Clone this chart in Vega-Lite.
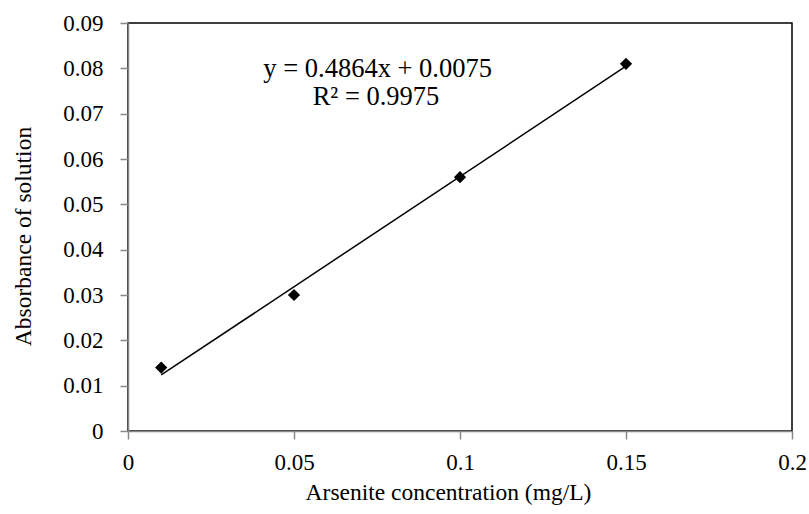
{
  "$schema": "https://vega.github.io/schema/vega-lite/v6.json",
  "autosize": "none",
  "width": 664,
  "height": 408,
  "padding": {"left": 128, "top": 23, "right": 17, "bottom": 83},
  "background": "white",
  "config": {
    "font": "Liberation Serif",
    "view": {"stroke": "black", "strokeWidth": 1.5},
    "axis": {
      "grid": false,
      "domainColor": "#888888",
      "domainWidth": 1.5,
      "tickColor": "#888888",
      "tickWidth": 1.5,
      "tickSize": 8,
      "labelFont": "Liberation Serif",
      "labelFontSize": 23,
      "labelColor": "black",
      "titleFont": "Liberation Serif",
      "titleFontSize": 23.5,
      "titleFontWeight": "normal",
      "titleColor": "black"
    }
  },
  "datasets": {
    "points": [
      {"conc": 0.01, "abs": 0.014},
      {"conc": 0.05, "abs": 0.030},
      {"conc": 0.10, "abs": 0.056},
      {"conc": 0.15, "abs": 0.081}
    ],
    "trend": [
      {"conc": 0.01, "abs": 0.012364},
      {"conc": 0.15, "abs": 0.08046}
    ],
    "labels": [
      {"conc": 0.0752, "abs": 0.0781, "text": "y = 0.4864x + 0.0075"},
      {"conc": 0.0747, "abs": 0.0719, "text": "R² = 0.9975"}
    ]
  },
  "encoding": {
    "x": {
      "field": "conc",
      "type": "quantitative",
      "scale": {"domain": [0, 0.2], "nice": false, "zero": false},
      "axis": {
        "title": "Arsenite concentration (mg/L)",
        "values": [0, 0.05, 0.1, 0.15, 0.2],
        "labelExpr": "datum.value == 0 ? '0' : format(datum.value, '.3~f')",
        "labelPadding": 12,
        "labelFlush": false,
        "labelOverlap": false,
        "titleX": 320,
        "titleY": 68,
        "titleBaseline": "alphabetic",
        "titleAlign": "center"
      }
    },
    "y": {
      "field": "abs",
      "type": "quantitative",
      "scale": {"domain": [0, 0.09], "nice": false, "zero": false},
      "axis": {
        "title": "Absorbance of solution",
        "values": [0, 0.01, 0.02, 0.03, 0.04, 0.05, 0.06, 0.07, 0.08, 0.09],
        "labelExpr": "datum.value == 0 ? '0' : format(datum.value, '.2f')",
        "labelPadding": 17,
        "labelFlush": false,
        "labelOverlap": false,
        "titleX": -98,
        "titleY": 213,
        "titleAngle": -90,
        "titleAlign": "center",
        "titleBaseline": "alphabetic"
      }
    }
  },
  "layer": [
    {
      "data": {"name": "trend"},
      "mark": {"type": "line", "color": "black", "strokeWidth": 1.5}
    },
    {
      "data": {"name": "points"},
      "mark": {"type": "point", "shape": "diamond", "filled": true, "color": "black", "size": 150, "opacity": 1}
    },
    {
      "data": {"name": "labels"},
      "mark": {"type": "text", "font": "Liberation Serif", "fontSize": 26.5, "align": "center", "baseline": "alphabetic", "color": "black"},
      "encoding": {"text": {"field": "text"}}
    }
  ]
}
